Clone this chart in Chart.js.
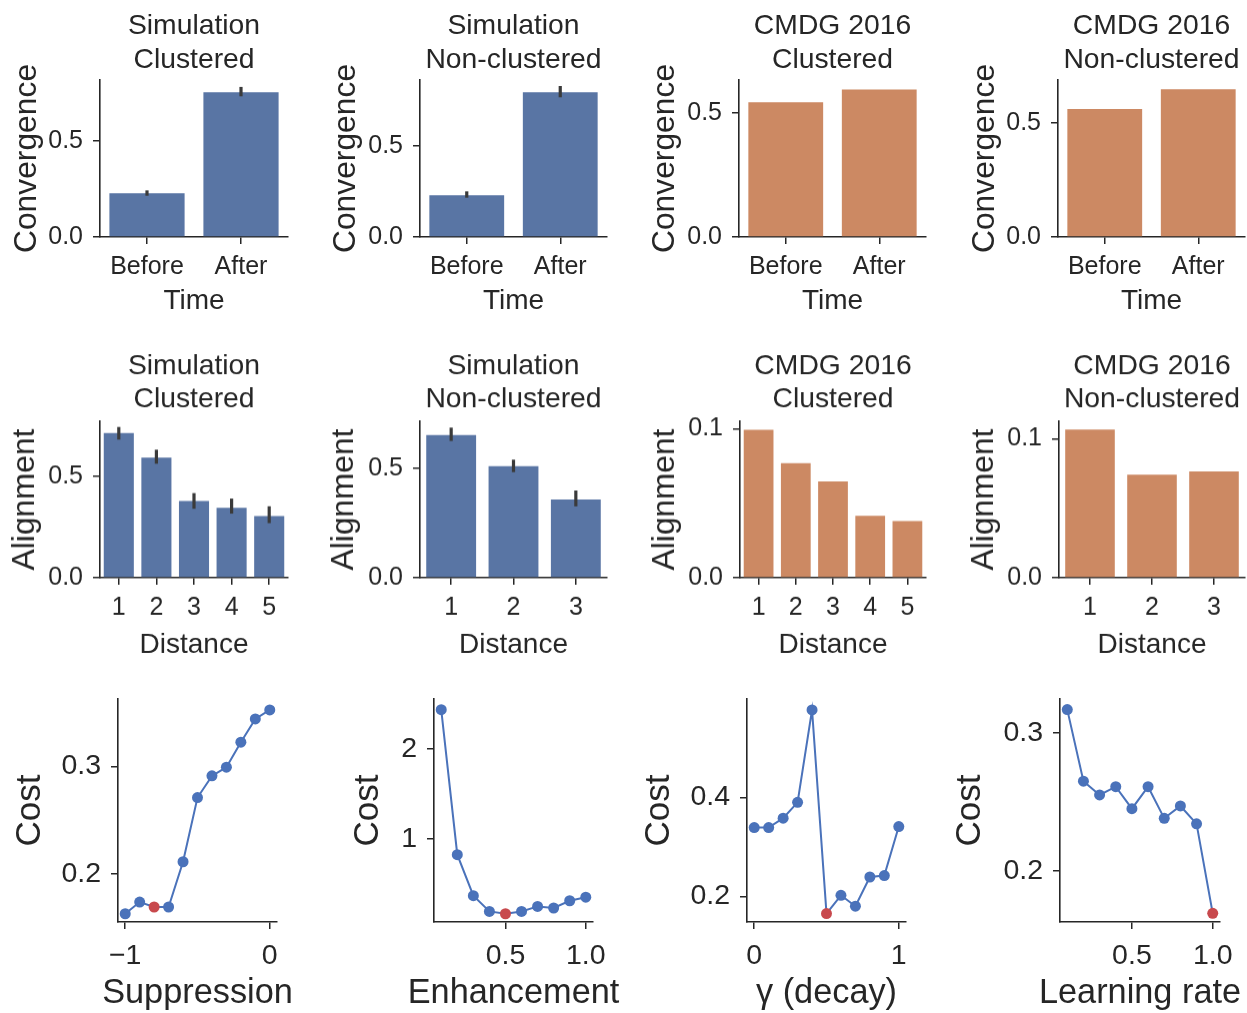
<!DOCTYPE html>
<html><head><meta charset="utf-8">
<script src="https://cdn.jsdelivr.net/npm/chart.js@4.4.1/dist/chart.umd.min.js"></script>
<style>
html,body{margin:0;padding:0;background:#fff;overflow:hidden;width:1247px;height:1013px;position:relative;}
.panel{position:absolute;}
.panel canvas{display:block;}
</style></head><body>
<script>
// ---------------- data ----------------
const timeCats = ['Before', 'After'];
const dist5 = ['1', '2', '3', '4', '5'];
const dist3 = ['1', '2', '3'];

const simClConv   = [0.228, 0.754];
const simClConvLo = [0.215, 0.733];
const simClConvHi = [0.243, 0.782];
const simNcConv   = [0.229, 0.795];
const simNcConvLo = [0.216, 0.768];
const simNcConvHi = [0.251, 0.830];
const cmdgClConv  = [0.542, 0.594];
const cmdgNcConv  = [0.560, 0.646];

const simClAlign   = [0.713, 0.592, 0.378, 0.345, 0.304];
const simClAlignLo = [0.681, 0.562, 0.340, 0.316, 0.269];
const simClAlignHi = [0.743, 0.631, 0.417, 0.390, 0.352];
const simNcAlign   = [0.654, 0.511, 0.358];
const simNcAlignLo = [0.627, 0.484, 0.327];
const simNcAlignHi = [0.688, 0.541, 0.400];
const cmdgClAlign  = [0.0993, 0.0769, 0.0646, 0.0416, 0.0380];
const cmdgNcAlign  = [0.1065, 0.0741, 0.0765];

const suppX    = [-1.0, -0.9, -0.8, -0.7, -0.6, -0.5, -0.4, -0.3, -0.2, -0.1, 0.0];
const suppCost = [0.1627, 0.1736, 0.1690, 0.1690, 0.2112, 0.2711, 0.2913, 0.2994, 0.3227, 0.3444, 0.3528];
const suppBest = 2;
const enhX     = [0.1, 0.2, 0.3, 0.4, 0.5, 0.6, 0.7, 0.8, 0.9, 1.0];
const enhCost  = [2.438, 0.822, 0.365, 0.189, 0.163, 0.189, 0.245, 0.227, 0.308, 0.348];
const enhBest  = 4;
const decX     = [0.0, 0.1, 0.2, 0.3, 0.4, 0.5, 0.6, 0.7, 0.8, 0.9, 1.0];
const decCost  = [0.339, 0.339, 0.358, 0.390, 0.577, 0.165, 0.202, 0.180, 0.239, 0.242, 0.341];
const decBest  = 5;
const lrX      = [0.1, 0.2, 0.3, 0.4, 0.5, 0.6, 0.7, 0.8, 0.9, 1.0];
const lrCost   = [0.317, 0.265, 0.255, 0.261, 0.245, 0.261, 0.238, 0.247, 0.234, 0.169];
const lrBest   = 9;

// tick values and labels
const convTicks = [0, 0.5],        convTickLabels = ['0.0', '0.5'];
const alignSimTicks = [0, 0.5],    alignSimTickLabels = ['0.0', '0.5'];
const alignCmdgTicks = [0, 0.1],   alignCmdgTickLabels = ['0.0', '0.1'];
const suppXTicks = [-1, 0],        suppXTickLabels = ['\u22121', '0'];
const suppYTicks = [0.2, 0.3],     suppYTickLabels = ['0.2', '0.3'];
const enhXTicks = [0.5, 1.0],      enhXTickLabels = ['0.5', '1.0'];
const enhYTicks = [1, 2],          enhYTickLabels = ['1', '2'];
const decXTicks = [0, 1],          decXTickLabels = ['0', '1'];
const decYTicks = [0.2, 0.4],      decYTickLabels = ['0.2', '0.4'];
const lrXTicks = [0.5, 1.0],       lrXTickLabels = ['0.5', '1.0'];
const lrYTicks = [0.2, 0.3],       lrYTickLabels = ['0.2', '0.3'];

// ---------------- style ----------------
const FONT = '"Liberation Sans", Arial, Helvetica, sans-serif';
const INK = '#262626';
const BAR_BLUE = '#5975a4', BAR_ORANGE = '#cc8963';
const LINE_BLUE = '#4a72ba', BEST_RED = '#c8494d';
const ERR = '#3a3a3a';

const textPlugin = {
  id: 'panelText',
  afterDraw(chart, args, o) {
    const ctx = chart.ctx, a = chart.chartArea;
    ctx.save();
    ctx.fillStyle = INK; ctx.textAlign = 'center'; ctx.textBaseline = 'middle';
    const cx = (a.left + a.right) / 2;
    if (o.title) {
      ctx.font = o.titleSize + 'px ' + FONT;
      o.title.forEach((t, i) => ctx.fillText(t, cx, o.titleY + i * o.titleLH));
    }
    ctx.font = o.xSize + 'px ' + FONT;
    ctx.fillText(o.xTitle, cx, o.xTitleY);
    ctx.translate(o.yTitleX, (a.top + a.bottom) / 2);
    ctx.rotate(-Math.PI / 2);
    ctx.font = o.ySize + 'px ' + FONT;
    ctx.fillText(o.yTitle, 0, 0);
    ctx.restore();
  }
};

function tickCfg(vals, labels) {
  return {
    afterBuildTicks: s => { s.ticks = vals.map(v => ({ value: v })); },
    cb: v => { const i = vals.findIndex(t => Math.abs(t - v) < 1e-9); return i >= 0 ? labels[i] : ''; }
  };
}

function axisCommon(size, pad) {
  return {
    border: { display: true, color: INK, width: 1.6 },
    grid: { display: true, drawOnChartArea: false, drawTicks: true, tickLength: 7, tickWidth: 1.5, tickColor: INK, color: INK, lineWidth: 1.5 },
    ticks: { color: INK, font: { family: FONT, size: size }, padding: pad, autoSkip: false, maxRotation: 0, minRotation: 0 }
  };
}

function makePanel(g, type, data, scaleX, scaleY, txt) {
  const cl = g.L - 110, ct = g.T - (txt.title ? 95 : 40);
  const padR = 40;
  const cw = g.R - cl + padR, ch = g.B + 110 - ct;
  const div = document.createElement('div');
  div.className = 'panel';
  div.style.left = cl + 'px'; div.style.top = ct + 'px';
  const cv = document.createElement('canvas');
  cv.width = cw; cv.height = ch;
  cv.style.width = cw + 'px'; cv.style.height = ch + 'px';
  div.appendChild(cv); document.body.appendChild(div);
  const yW = g.L - cl, xH = (ct + ch) - g.B;
  scaleY.afterFit = s => { s.width = yW; };
  scaleX.afterFit = s => { s.height = xH; };
  new Chart(cv, {
    type: type,
    data: data,
    options: {
      responsive: false, animation: false, events: [],
      layout: { padding: { top: g.T - ct, right: padR, bottom: 0, left: 0 } },
      plugins: {
        legend: { display: false }, tooltip: { enabled: false }, title: { display: false },
        panelText: {
          title: txt.title, titleSize: txt.titleSize || 28.3, titleLH: 33.5, titleY: (g.tm || 0) - ct,
          xTitle: txt.x, xSize: txt.xSize, xTitleY: g.xt - ct,
          yTitle: txt.y, ySize: txt.ySize, yTitleX: g.yt - cl
        }
      },
      scales: { x: scaleX, y: scaleY }
    },
    plugins: [textPlugin]
  });
}

function barPanel(g, cats, vals, lo, hi, color, yMax, yt, ytl, txt) {
  const datasets = [];
  if (lo) {
    datasets.push({
      data: cats.map((c, i) => [lo[i], hi[i]]),
      backgroundColor: ERR, borderWidth: 0, grouped: false, maxBarThickness: 3.2, order: 0
    });
  }
  datasets.push({
    data: vals, backgroundColor: color, borderWidth: 0, grouped: false,
    categoryPercentage: 0.8, barPercentage: 1.0, order: 1
  });
  const tY = tickCfg(yt, ytl);
  const x = axisCommon(25, 8);
  x.offset = true; x.grid.offset = false;
  const y = axisCommon(25, 10);
  y.min = 0; y.max = yMax;
  y.afterBuildTicks = tY.afterBuildTicks; y.ticks.callback = tY.cb;
  makePanel(g, 'bar', { labels: cats, datasets }, x, y, Object.assign({ xSize: 28, ySize: 31.8 }, txt));
}

function linePanel(g, xs, ys, best, xr, yr, xt, xtl, yt, ytl, txt) {
  const tX = tickCfg(xt, xtl), tY = tickCfg(yt, ytl);
  const x = axisCommon(28.5, 10.5);
  x.type = 'linear'; x.min = xr[0]; x.max = xr[1];
  x.afterBuildTicks = tX.afterBuildTicks; x.ticks.callback = tX.cb;
  const y = axisCommon(28.5, 10);
  y.min = yr[0]; y.max = yr[1];
  y.afterBuildTicks = tY.afterBuildTicks; y.ticks.callback = tY.cb;
  makePanel(g, 'line', {
    datasets: [{
      data: xs.map((v, i) => ({ x: v, y: ys[i] })),
      borderColor: LINE_BLUE, borderWidth: 2, tension: 0, clip: false,
      pointRadius: 5.5, pointBorderWidth: 0,
      pointBackgroundColor: c => c.dataIndex === best ? BEST_RED : LINE_BLUE
    }]
  }, x, y, Object.assign({ xSize: 34.3, ySize: 35 }, txt));
}

// ---------------- layout (page pixels) ----------------
const R1 = { T: 80, B: 237, tm: 26.5, xt: 301 };
const R2 = { T: 421, B: 577.5, tm: 366, xt: 644 };
const R3 = { T: 699, B: 922, xt: 994 };

const tSimCl = ['Simulation', 'Clustered'], tSimNc = ['Simulation', 'Non-clustered'];
const tCmCl = ['CMDG 2016', 'Clustered'], tCmNc = ['CMDG 2016', 'Non-clustered'];

barPanel(Object.assign({ L: 100, R: 288, yt: 27 }, R1), timeCats, simClConv, simClConvLo, simClConvHi, BAR_BLUE, 0.818, convTicks, convTickLabels, { title: tSimCl, x: 'Time', y: 'Convergence' });
barPanel(Object.assign({ L: 420, R: 607, yt: 346 }, R1), timeCats, simNcConv, simNcConvLo, simNcConvHi, BAR_BLUE, 0.863, convTicks, convTickLabels, { title: tSimNc, x: 'Time', y: 'Convergence' });
barPanel(Object.assign({ L: 739, R: 926, yt: 665 }, R1), timeCats, cmdgClConv, null, null, BAR_ORANGE, 0.632, convTicks, convTickLabels, { title: tCmCl, x: 'Time', y: 'Convergence' });
barPanel(Object.assign({ L: 1058, R: 1245, yt: 985 }, R1), timeCats, cmdgNcConv, null, null, BAR_ORANGE, 0.687, convTicks, convTickLabels, { title: tCmNc, x: 'Time', y: 'Convergence' });

barPanel(Object.assign({ L: 100, R: 288, yt: 25 }, R2), dist5, simClAlign, simClAlignLo, simClAlignHi, BAR_BLUE, 0.771, alignSimTicks, alignSimTickLabels, { title: tSimCl, x: 'Distance', y: 'Alignment' });
barPanel(Object.assign({ L: 420, R: 607, yt: 344 }, R2), dist3, simNcAlign, simNcAlignLo, simNcAlignHi, BAR_BLUE, 0.717, alignSimTicks, alignSimTickLabels, { title: tSimNc, x: 'Distance', y: 'Alignment' });
barPanel(Object.assign({ L: 740, R: 926, yt: 665 }, R2), dist5, cmdgClAlign, null, null, BAR_ORANGE, 0.105, alignCmdgTicks, alignCmdgTickLabels, { title: tCmCl, x: 'Distance', y: 'Alignment' });
barPanel(Object.assign({ L: 1059, R: 1245, yt: 984 }, R2), dist3, cmdgNcAlign, null, null, BAR_ORANGE, 0.1125, alignCmdgTicks, alignCmdgTickLabels, { title: tCmNc, x: 'Distance', y: 'Alignment' });

linePanel(Object.assign({ L: 118, R: 277, yt: 30 }, R3), suppX, suppCost, suppBest, [-1.05, 0.05], [0.155, 0.363], suppXTicks, suppXTickLabels, suppYTicks, suppYTickLabels, { x: 'Suppression', y: 'Cost' });
linePanel(Object.assign({ L: 434, R: 593, yt: 368 }, R3), enhX, enhCost, enhBest, [0.055, 1.045], [0.071, 2.557], enhXTicks, enhXTickLabels, enhYTicks, enhYTickLabels, { x: 'Enhancement', y: 'Cost' });
linePanel(Object.assign({ L: 747, R: 906, yt: 659 }, R3), decX, decCost, decBest, [-0.05, 1.05], [0.148, 0.599], decXTicks, decXTickLabels, decYTicks, decYTickLabels, { x: '\u03b3 (decay)', y: 'Cost' });
linePanel(Object.assign({ L: 1060, R: 1220, yt: 970 }, R3), lrX, lrCost, lrBest, [0.055, 1.045], [0.1627, 0.3247], lrXTicks, lrXTickLabels, lrYTicks, lrYTickLabels, { x: 'Learning rate', y: 'Cost' });
</script>
</body></html>
